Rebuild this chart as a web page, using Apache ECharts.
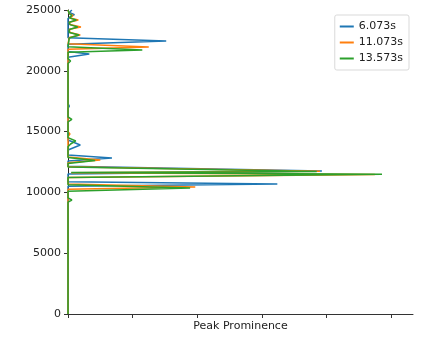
<!DOCTYPE html>
<html>
<head>
<meta charset="utf-8">
<script src="https://cdn.jsdelivr.net/npm/echarts@6/dist/echarts.min.js"></script>
<style>
html,body{margin:0;padding:0;background:#fff;}
#c{width:421px;height:338px;}
</style>
</head>
<body>
<div id="c"></div>
<script>
// Series names (legend)
const seriesNames = ['6.073s', '11.073s', '13.573s'];
const seriesColors = ['#1f77b4', '#ff7f0e', '#2ca02c'];

// Y axis: frequency, tick labels
const yTicks = [0, 5000, 10000, 15000, 20000, 25000];
// X axis tick positions (no labels shown)
const xTicks = [0, 1, 2, 3, 4, 5];

// 6.073s
const freq6 = [0, 9000, 10000, 10500, 10690, 10880, 11520, 11760, 12150, 12580, 12830, 13070, 13490, 13900, 14310, 16900, 17100, 17300, 20700, 21120, 21380, 21580, 22180, 22450, 22720, 24300, 24500, 24620, 24800, 25000];
const prom6 = [0, 0, 0, 0, 3.24, 0, 0, 3.93, 0, 0, 0.68, 0, 0, 0.19, 0, 0, 0.02, 0, 0, 0, 0.33, 0, 0, 1.52, 0, 0, 0.05, 0.1, 0.02, 0.06];

// 11.073s
const freq11 = [0, 10250, 10440, 10700, 11230, 11480, 11620, 11730, 12110, 12430, 12660, 12920, 14600, 14800, 15000, 21770, 21960, 22220, 22750, 22950, 23150, 23420, 23600, 23800, 24000, 24180, 24350, 24550, 24700, 25000];
const prom11 = [0, 0, 1.97, 0, 0, 4.75, 0.05, 3.9, 0, 0, 0.5, 0, 0, 0.03, 0, 0, 1.25, 0, 0.02, 0.19, 0.03, 0.02, 0.2, 0.03, 0.02, 0.16, 0.03, 0.08, 0.02, 0];

// 13.573s
const freq13 = [0, 9200, 9375, 9550, 10100, 10360, 10620, 11220, 11500, 11640, 11710, 12090, 12380, 12620, 12870, 13750, 13980, 14230, 14500, 15800, 16000, 16200, 20600, 20800, 21000, 21530, 21710, 21980, 22700, 22950, 23150, 23400, 23600, 23800, 24000, 24180, 24350, 24550, 24700, 25000];
const prom13 = [0, 0, 0.06, 0, 0, 1.89, 0, 0, 4.86, 0.05, 3.85, 0, 0, 0.42, 0, 0, 0.04, 0.12, 0, 0, 0.06, 0, 0, 0.04, 0, 0, 1.15, 0, 0.02, 0.17, 0.02, 0.02, 0.15, 0.03, 0.02, 0.13, 0.02, 0.06, 0.02, 0];

const freqs = [freq6, freq11, freq13];
const proms = [prom6, prom11, prom13];

const chart = echarts.init(document.getElementById('c'), null, {renderer: 'canvas'});
const font = 'DejaVu Sans';
chart.setOption({
  animation: false,
  backgroundColor: '#fff',
  textStyle: {fontFamily: font},
  grid: {left: 68, right: 8, top: 10, bottom: 24, containLabel: false},
  legend: {
    orient: 'vertical',
    right: 12, top: 15,
    padding: [5, 6, 5, 5],
    itemGap: 3,
    itemWidth: 14, itemHeight: 2,
    icon: 'rect',
    borderColor: '#d9d9d9', borderWidth: 1, borderRadius: 2,
    backgroundColor: 'rgba(255,255,255,0.8)',
    textStyle: {fontSize: 11, color: '#222', fontFamily: font, lineHeight: 13},
    data: seriesNames
  },
  xAxis: {
    type: 'value',
    min: 0, max: 5.34,
    name: 'Peak Prominence',
    nameLocation: 'middle',
    nameGap: 7,
    nameTextStyle: {fontSize: 11, color: '#222', fontFamily: font},
    splitLine: {show: false},
    axisLine: {show: true, onZero: false, lineStyle: {color: '#333', width: 1}},
    axisTick: {show: true, length: 4, inside: false, customValues: xTicks, lineStyle: {color: '#333'}},
    axisLabel: {show: false}
  },
  yAxis: {
    type: 'value',
    min: 0, max: 25000,
    interval: 5000,
    splitLine: {show: false},
    axisLine: {show: true, onZero: false, lineStyle: {color: '#222', width: 1}},
    axisTick: {show: true, length: 4, customValues: yTicks, lineStyle: {color: '#333'}},
    axisLabel: {show: true, fontSize: 11, color: '#222', margin: 7, fontFamily: font, customValues: yTicks,
      formatter: v => String(v)}
  },
  series: seriesNames.map((name, k) => ({
    name: name,
    type: 'line',
    showSymbol: false,
    symbol: 'none',
    smooth: false,
    color: seriesColors[k],
    lineStyle: {width: 1.5, color: seriesColors[k]},
    data: proms[k].map((v, i) => [v, freqs[k][i]]),
    z: 2 + k
  }))
});
</script>
</body>
</html>
